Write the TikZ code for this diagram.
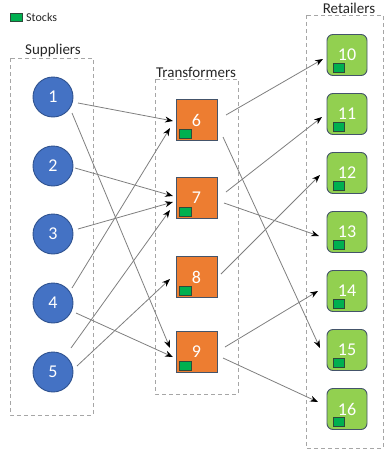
\documentclass[tikz,border=0pt]{standalone}
\usepackage{fontspec}
\setmainfont{Carlito}
\usetikzlibrary{arrows.meta,calc}

\definecolor{supblue}{HTML}{4472C4}
\definecolor{supedge}{HTML}{2F528F}
\definecolor{trorange}{HTML}{ED7D31}
\definecolor{retgreen}{HTML}{92D050}
\definecolor{boxedge}{HTML}{44546A}
\definecolor{stockgreen}{HTML}{00B050}
\definecolor{stockedge}{HTML}{2E4A3A}
\definecolor{groupgray}{HTML}{A6A6A6}
\definecolor{flowgray}{HTML}{7F7F7F}

\tikzset{
  every node/.style={font=\fontsize{18}{20}\selectfont},
  supplier/.style={circle, minimum size=40pt, inner sep=0pt, fill=supblue,
    draw=supedge, line width=0.9pt, text=white},
  transformer/.style={rectangle, minimum width=41pt, minimum height=41pt,
    inner sep=0pt, fill=trorange, draw=boxedge, line width=0.9pt, text=white},
  retailer/.style={rectangle, rounded corners=6pt, minimum width=40pt,
    minimum height=41pt, inner sep=0pt, fill=retgreen, draw=boxedge,
    line width=0.9pt, text=white},
  stock/.style={fill=stockgreen, draw=stockedge, line width=0.8pt},
  groupbox/.style={draw=groupgray, dash pattern=on 4pt off 3pt, line width=0.9pt},
  grouplabel/.style={anchor=base, font=\fontsize{15}{17}\selectfont, text=black!85},
  flow/.style={draw=flowgray, line width=0.8pt,
    -{Stealth[color=black, length=8pt, width=6pt]}},
}

\begin{document}
\begin{tikzpicture}[x=1pt, y=-1pt]
  \useasboundingbox (0,0) rectangle (385,450);

  % legend
  \filldraw[stock] (10,13) rectangle (22,21);
  \node[anchor=base west, inner sep=0pt, font=\fontsize{12}{14}\selectfont, text=black!85]
    (legend) at (26,21.5) {Stocks};

  % group frames and titles
  \draw[groupbox] (10,58) rectangle (93,415);
  \draw[groupbox] (155,79) rectangle (238,394);
  \draw[groupbox] (306,15) rectangle (383,448);
  \node[grouplabel] (lsup) at (53,54.5) {Suppliers};
  \node[grouplabel] (ltra) at (196,77) {Transformers};
  \node[grouplabel] (lret) at (349,13.5) {Retailers};

  % suppliers
  \node[supplier] (s1) at (53,97)  {1};
  \node[supplier] (s2) at (53,166) {2};
  \node[supplier] (s3) at (53,234) {3};
  \node[supplier] (s4) at (53,303) {4};
  \node[supplier] (s5) at (53,372) {5};

  % transformers, each holding a stock
  \foreach \n/\y in {6/120, 7/198, 8/277, 9/352}{
    \node[transformer] (t\n) at (196.5,\y) {\n};
    \filldraw[stock] ($(t\n)+(-17.5,9)$) rectangle ($(t\n)+(-5.5,18)$);
  }

  % retailers, each holding a stock
  \foreach \n/\y in {10/55, 11/114, 12/173, 13/232, 14/291, 15/350, 16/409}{
    \node[retailer] (r\n) at (347,\y) {\n};
    \filldraw[stock] ($(r\n)+(-14,8)$) rectangle ($(r\n)+(-3,17)$);
  }

  % supplier -> transformer flows
  \draw[flow] ($(s1)+(25,6)$)   -- ($(t6)+(-23.5,1)$);
  \draw[flow] ($(s1)+(19,16)$)  -- ($(t9)+(-26.5,-4)$);
  \draw[flow] ($(s2)+(22,2)$)   -- ($(t7)+(-23.5,-2)$);
  \draw[flow] ($(s3)+(25,-5)$)  -- ($(t7)+(-23.5,4)$);
  \draw[flow] ($(s4)+(19,-15)$) -- ($(t6)+(-26.5,8)$);
  \draw[flow] ($(s4)+(23,10)$)  -- ($(t9)+(-23.5,5)$);
  \draw[flow] ($(s5)+(18,-24)$) -- ($(t7)+(-26.5,12)$);
  \draw[flow] ($(s5)+(24,-6)$)  -- ($(t8)+(-26.5,2)$);

  % transformer -> retailer flows
  \draw[flow] ($(t6)+(29.5,-5)$) -- ($(r10)+(-24,4)$);
  \draw[flow] ($(t6)+(26.5,17)$) -- ($(r15)+(-27,-2)$);
  \draw[flow] ($(t7)+(29.5,-6)$) -- ($(r11)+(-25,3)$);
  \draw[flow] ($(t7)+(27.5,5)$)  -- ($(r13)+(-28,4)$);
  \draw[flow] ($(t8)+(24.5,-3)$) -- ($(r12)+(-27,2)$);
  \draw[flow] ($(t9)+(28.5,-5)$) -- ($(r14)+(-29,0)$);
  \draw[flow] ($(t9)+(26.5,6)$)  -- ($(r16)+(-29,-7)$);
\end{tikzpicture}
\end{document}
